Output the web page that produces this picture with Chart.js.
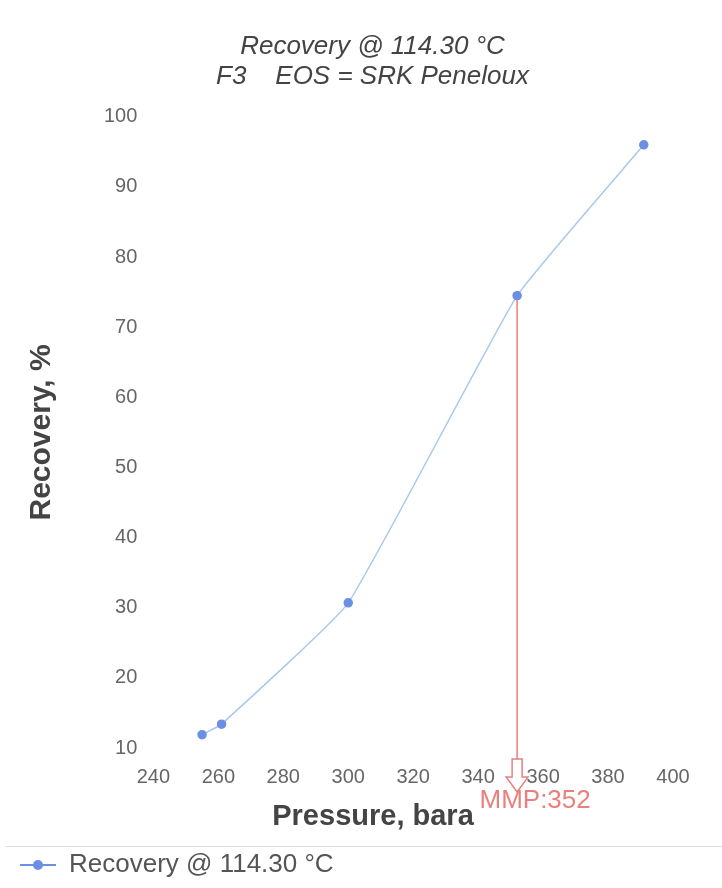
<!DOCTYPE html>
<html>
<head>
<meta charset="utf-8">
<script src="https://cdn.jsdelivr.net/npm/chart.js@4/dist/chart.umd.min.js"></script>
<style>
  html, body { margin: 0; padding: 0; background: #fff; }
  #wrap { width: 722px; height: 888px; position: relative; }
</style>
</head>
<body>
<div id="wrap"><canvas id="recoveryChart"></canvas></div>
<script>
// values
const titleLines = ['Recovery @ 114.30 °C', 'F3    EOS = SRK Peneloux'];
const seriesLabel = 'Recovery @ 114.30 °C';
const pressure = [255, 261, 300, 352, 391];
const recovery = [11.9, 13.4, 30.7, 74.5, 96.0];
const xTicks = [240, 260, 280, 300, 320, 340, 360, 380, 400];
const yTicks = [10, 20, 30, 40, 50, 60, 70, 80, 90, 100];
const mmpPressure = 352;
const mmpLabel = 'MMP:352';
const xTitle = 'Pressure, bara';
const yTitle = 'Recovery, %';

const lineColor = '#a9c8ee';
const pointColor = '#6b8fe3';
const mmpColor = '#e8807e';
const textColor = '#444';
const tickColor = '#666';
const fontFamily = '"Liberation Sans", Arial, sans-serif';

// legend marker: a short line with a dot in the middle
function makeLegendMarker() {
  const c = document.createElement('canvas');
  c.width = 36;
  c.height = 14;
  const g = c.getContext('2d');
  g.strokeStyle = pointColor;
  g.lineWidth = 2;
  g.beginPath();
  g.moveTo(0, 7);
  g.lineTo(36, 7);
  g.stroke();
  g.fillStyle = pointColor;
  g.beginPath();
  g.arc(18, 7, 5, 0, Math.PI * 2);
  g.fill();
  return c;
}

// MMP marker line + hollow arrow + label, the x title and the legend separator
const mmpPlugin = {
  id: 'mmpMarker',
  afterLayout(chart) {
    // the title in the reference sits a little right of the plot's own centre
    chart.titleBlock.left += 31;
    chart.titleBlock.right += 31;
  },
  afterDatasetsDraw(chart) {
    const { ctx, chartArea, scales } = chart;
    const idx = pressure.indexOf(mmpPressure);
    const px = scales.x.getPixelForValue(mmpPressure);
    const py = scales.y.getPixelForValue(recovery[idx]);
    const b = chartArea.bottom;
    ctx.save();
    ctx.strokeStyle = mmpColor;
    ctx.lineWidth = 1.5;
    ctx.beginPath();
    ctx.moveTo(px, py + 4);
    ctx.lineTo(px, b + 11);
    ctx.stroke();
    ctx.beginPath();
    ctx.moveTo(px - 5, b + 11);
    ctx.lineTo(px + 5, b + 11);
    ctx.lineTo(px + 5, b + 29);
    ctx.lineTo(px + 11, b + 29);
    ctx.lineTo(px, b + 44);
    ctx.lineTo(px - 11, b + 29);
    ctx.lineTo(px - 5, b + 29);
    ctx.closePath();
    ctx.stroke();
    ctx.fillStyle = mmpColor;
    ctx.font = '26px ' + fontFamily;
    ctx.textAlign = 'center';
    ctx.textBaseline = 'middle';
    ctx.fillText(mmpLabel, px + 18, b + 53);
    ctx.restore();
  },
  afterDraw(chart) {
    const { ctx, chartArea, width } = chart;
    ctx.save();
    ctx.fillStyle = textColor;
    ctx.font = 'bold 29px ' + fontFamily;
    ctx.textAlign = 'center';
    ctx.textBaseline = 'middle';
    ctx.fillText(xTitle, width / 2 + 12, chartArea.bottom + 69);
    const lg = chart.legend;
    ctx.strokeStyle = '#ddd';
    ctx.lineWidth = 1;
    ctx.beginPath();
    ctx.moveTo(6, lg.top + 4.5);
    ctx.lineTo(width, lg.top + 4.5);
    ctx.stroke();
    ctx.restore();
  },
};

new Chart(document.getElementById('recoveryChart').getContext('2d'), {
  type: 'line',
  data: {
    datasets: [
      {
        label: seriesLabel,
        data: pressure.map((p, i) => ({ x: p, y: recovery[i] })),
        borderColor: lineColor,
        backgroundColor: pointColor,
        pointBackgroundColor: pointColor,
        pointBorderColor: pointColor,
        borderWidth: 1.5,
        pointRadius: 4,
        tension: 0.12,
        fill: false,
      },
    ],
  },
  options: {
    responsive: true,
    maintainAspectRatio: false,
    animation: false,
    layout: { padding: { left: 10, right: 49, top: 0, bottom: 0 } },
    plugins: {
      title: {
        display: true,
        text: titleLines,
        color: textColor,
        font: { family: fontFamily, size: 26, style: 'italic', weight: 'normal', lineHeight: 1.15 },
        padding: { top: 32, bottom: 25 },
      },
      legend: {
        display: true,
        position: 'bottom',
        align: 'start',
        labels: {
          color: '#555',
          font: { family: fontFamily, size: 26 },
          usePointStyle: true,
          pointStyle: makeLegendMarker(),
          pointStyleWidth: 36,
          padding: 10,
        },
      },
      tooltip: { enabled: false },
    },
    scales: {
      x: {
        type: 'linear',
        min: xTicks[0],
        max: xTicks[xTicks.length - 1],
        grid: { display: false },
        border: { display: false },
        afterBuildTicks(scale) { scale.ticks = xTicks.map(v => ({ value: v })); },
        ticks: { color: tickColor, font: { family: fontFamily, size: 20 }, padding: 9, maxRotation: 0 },
        afterFit(scale) { scale.height += 44; },
      },
      y: {
        min: yTicks[0],
        max: yTicks[yTicks.length - 1],
        grid: { display: false },
        border: { display: false },
        afterBuildTicks(scale) { scale.ticks = yTicks.map(v => ({ value: v })); },
        ticks: { color: tickColor, font: { family: fontFamily, size: 20 }, padding: 8 },
        title: {
          display: true,
          text: yTitle,
          color: textColor,
          font: { family: fontFamily, size: 30, weight: 'bold' },
          padding: { top: 14, bottom: 36 },
        },
      },
    },
  },
  plugins: [mmpPlugin],
});
</script>
</body>
</html>
